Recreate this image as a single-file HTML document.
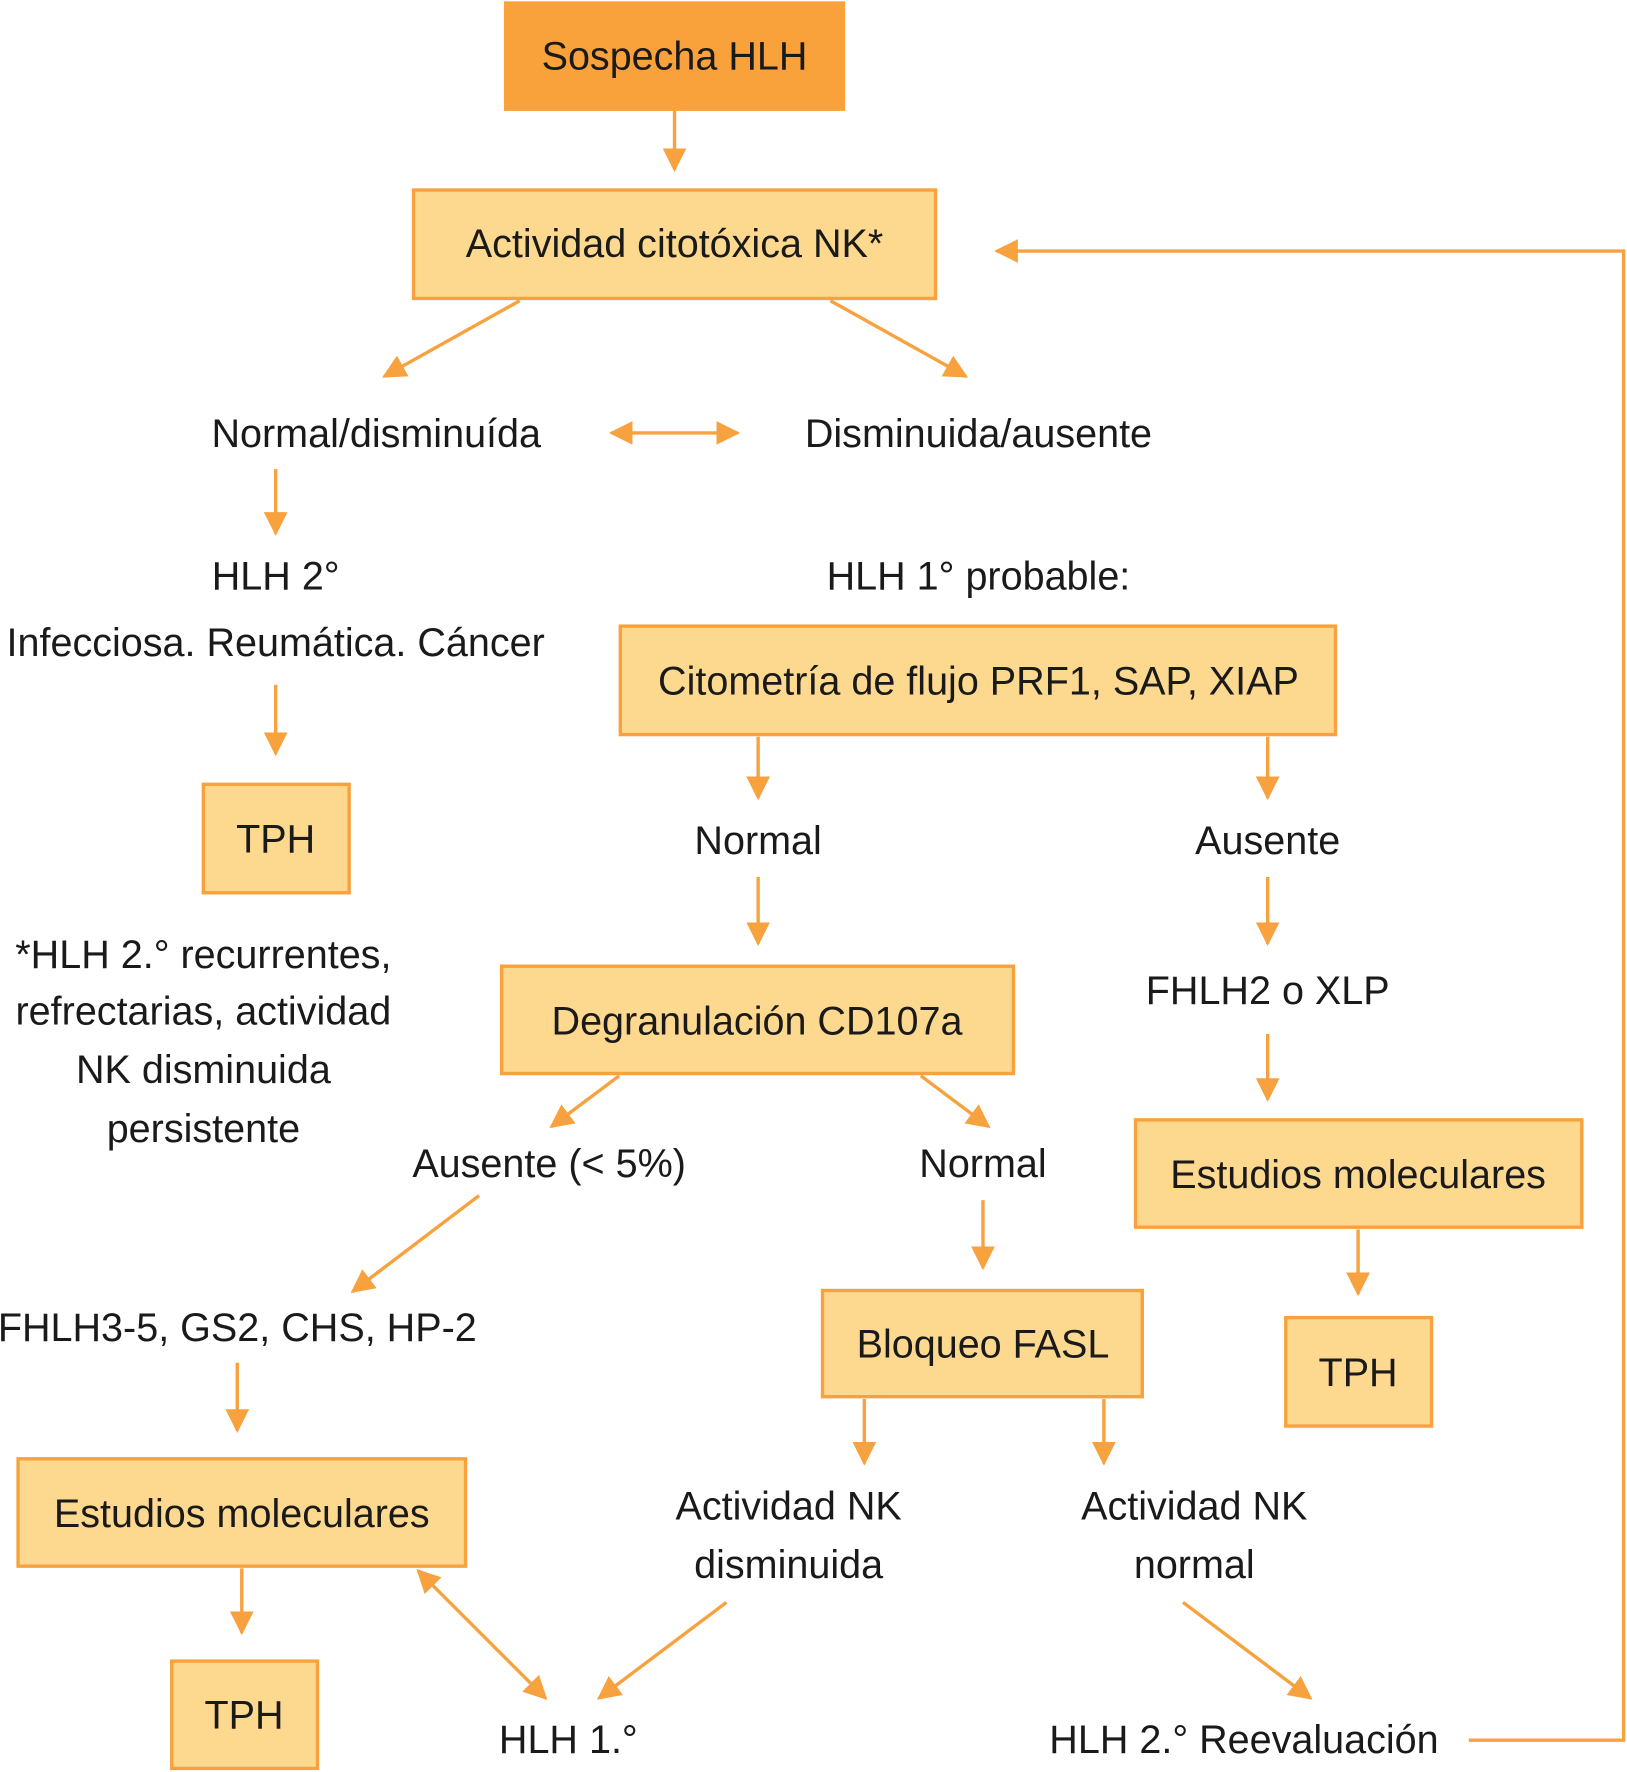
<!DOCTYPE html>
<html><head><meta charset="utf-8"><style>
html,body{margin:0;padding:0;background:#fff}
svg{display:block}
text{font-family:"Liberation Sans","DejaVu Sans",sans-serif;font-size:35px;fill:#1a1a1a;text-anchor:middle;dominant-baseline:central}
</style></head><body>
<svg width="1627" height="1772" viewBox="0 0 1440 1568" xmlns="http://www.w3.org/2000/svg">
<defs>
<marker id="a" viewBox="0 0 10 10" refX="9" refY="5" markerWidth="7" markerHeight="7" orient="auto-start-reverse" markerUnits="strokeWidth"><path d="M0,0 L10,5 L0,10 z" fill="#F7A23F"/></marker>
</defs>
<g fill="#FDD88F" stroke="#F7A23F" stroke-width="3">
<rect x="446" y="1" width="302" height="97" fill="#F9A13A" stroke="none"/>
<rect x="366" y="168" width="462" height="96"/>
<rect x="549" y="554" width="633" height="96"/>
<rect x="180" y="694" width="129" height="96"/>
<rect x="444" y="855" width="453" height="95"/>
<rect x="1005" y="991" width="395" height="95"/>
<rect x="728" y="1142" width="283" height="94"/>
<rect x="1138" y="1166" width="129" height="96"/>
<rect x="16" y="1291" width="396" height="95"/>
<rect x="152" y="1470" width="129" height="95"/>
</g>
<g stroke="#F7A23F" stroke-width="3" fill="none" marker-end="url(#a)">
<line x1="597" y1="98" x2="597" y2="150"/>
<line x1="460" y1="266" x2="340" y2="333"/>
<line x1="735" y1="266" x2="855" y2="333"/>
<line x1="541" y1="383" x2="653" y2="383" marker-start="url(#a)"/>
<line x1="244" y1="415" x2="244" y2="472"/>
<line x1="244" y1="606" x2="244" y2="667"/>
<line x1="671" y1="652" x2="671" y2="706"/>
<line x1="1122" y1="652" x2="1122" y2="706"/>
<line x1="671" y1="776" x2="671" y2="835"/>
<line x1="1122" y1="776" x2="1122" y2="835"/>
<line x1="1122" y1="915" x2="1122" y2="973"/>
<line x1="548" y1="952" x2="488" y2="997"/>
<line x1="815" y1="952" x2="875" y2="997"/>
<line x1="870" y1="1062" x2="870" y2="1122"/>
<line x1="424" y1="1058" x2="312" y2="1143"/>
<line x1="210" y1="1206" x2="210" y2="1266"/>
<line x1="1202" y1="1088" x2="1202" y2="1145"/>
<line x1="765" y1="1238" x2="765" y2="1295"/>
<line x1="977" y1="1238" x2="977" y2="1295"/>
<line x1="214" y1="1388" x2="214" y2="1445"/>
<line x1="370" y1="1390" x2="483" y2="1503" marker-start="url(#a)"/>
<line x1="643" y1="1418" x2="530" y2="1503"/>
<line x1="1047" y1="1418" x2="1160" y2="1503"/>
<polyline points="1300,1540 1437,1540 1437,222 882,222"/>
</g>
<text x="597" y="50">Sospecha HLH</text>
<text x="597" y="216">Actividad citotóxica NK*</text>
<text x="333" y="384">Normal/disminuída</text>
<text x="866" y="384">Disminuida/ausente</text>
<text x="244" y="510">HLH 2°</text>
<text x="244" y="569">Infecciosa. Reumática. Cáncer</text>
<text x="866" y="510">HLH 1° probable:</text>
<text x="866" y="603">Citometría de flujo PRF1, SAP, XIAP</text>
<text x="244" y="743">TPH</text>
<text x="671" y="744">Normal</text>
<text x="1122" y="744">Ausente</text>
<text x="180" y="845">*HLH 2.° recurrentes,</text>
<text x="180" y="895">refrectarias, actividad</text>
<text x="180" y="947">NK disminuida</text>
<text x="180" y="999">persistente</text>
<text x="670" y="904">Degranulación CD107a</text>
<text x="1122" y="877">FHLH2 o XLP</text>
<text x="1202" y="1040">Estudios moleculares</text>
<text x="486" y="1030">Ausente (&lt; 5%)</text>
<text x="870" y="1030">Normal</text>
<text x="210" y="1175">FHLH3-5, GS2, CHS, HP-2</text>
<text x="870" y="1190">Bloqueo FASL</text>
<text x="1202" y="1215">TPH</text>
<text x="214" y="1340">Estudios moleculares</text>
<text x="698" y="1333">Actividad NK</text>
<text x="698" y="1385">disminuida</text>
<text x="1057" y="1333">Actividad NK</text>
<text x="1057" y="1385">normal</text>
<text x="216" y="1518">TPH</text>
<text x="503" y="1540">HLH 1.°</text>
<text x="1101" y="1540">HLH 2.° Reevaluación</text>
</svg>
</body></html>
